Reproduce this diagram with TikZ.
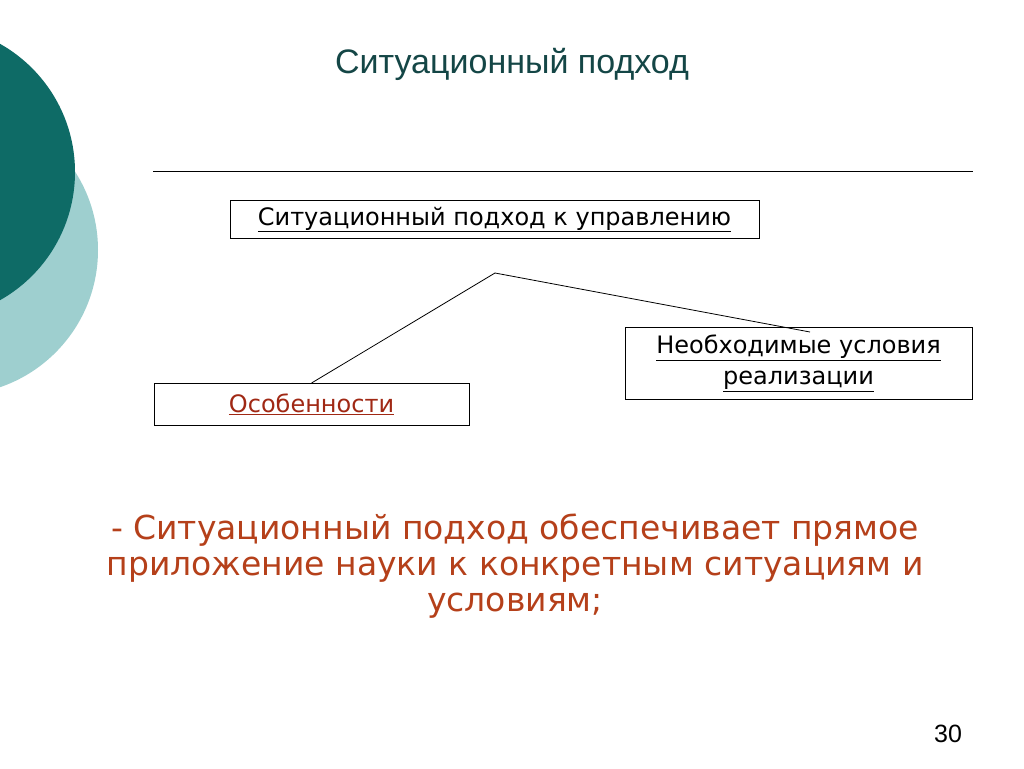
\documentclass[tikz,border=0pt]{standalone}
\usepackage{fontspec}
\setmainfont{Liberation Sans}
\newfontfamily\dv{DejaVu Sans}
\begin{document}
\begin{tikzpicture}[x=1pt,y=-1pt,
  bx/.style={draw,line width=0.9pt,inner sep=0pt,font=\dv\fontsize{24}{31}\selectfont,align=center}]
\useasboundingbox (0,0) rectangle (1024,768);
\fill[white] (0,0) rectangle (1024,768);
\begin{scope}
\clip (0,0) rectangle (1024,768);
\fill[color={rgb,255:red,158;green,207;blue,207}] (-47,250) circle (145);
\fill[color={rgb,255:red,14;green,107;blue,102}] (-72,172) circle (147);
\end{scope}
\node[font=\fontsize{34}{40}\selectfont,text={rgb,255:red,20;green,70;blue,70}] (title) at (512,64) {Ситуационный подход};
\draw[line width=1pt] (153,171) -- (973,171);
\node[bx,minimum width=529,minimum height=38] (top) at (494.5,219.5) {\underline{Ситуационный подход к управлению}};
\node[bx,minimum width=315,minimum height=42,text={rgb,255:red,160;green,40;blue,20}] (feat) at (311.5,404.5) {\underline{Особенности}};
\node[bx,minimum width=347,minimum height=72] (cond) at (798.5,363) {\underline{Необходимые условия}\\\underline{реализации}};
\coordinate (j) at (495,273);
\draw[line width=0.8pt] (feat.north) -- (j) -- (810,332);
\node[font=\dv\fontsize{33}{36}\selectfont,align=center,text={rgb,255:red,181;green,64;blue,26}] (body) at (515,566) {- Ситуационный подход обеспечивает прямое\\приложение науки к конкретным ситуациям и\\условиям;};
\node[font=\fontsize{25}{28}\selectfont] (num) at (948,734) {30};
\end{tikzpicture}
\end{document}
